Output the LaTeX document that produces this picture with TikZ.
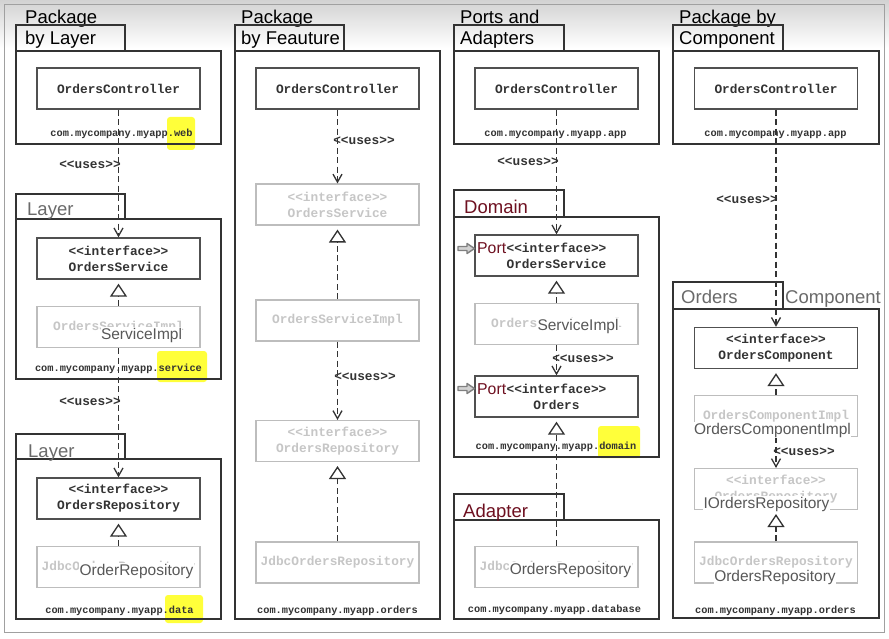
\documentclass[tikz,border=0pt]{standalone}
\usepackage{fontspec}
\setmainfont{Liberation Sans}
\newfontfamily\monof{Liberation Mono}
\usetikzlibrary{arrows.meta}
\definecolor{pkgc}{HTML}{333333}
\definecolor{clsc}{HTML}{505050}
\definecolor{lgc}{HTML}{BDBDBD}
\definecolor{lgt}{HTML}{C6C6C6}
\definecolor{txt}{HTML}{333333}
\definecolor{dred}{HTML}{6E1020}
\definecolor{hl}{HTML}{FFFF3A}
\definecolor{ovl}{HTML}{585858}
\definecolor{gtitle}{HTML}{6A6A6A}
\definecolor{frame}{HTML}{A0A0A0}
\definecolor{topgray}{HTML}{D2D2D2}
\begin{document}
\begin{tikzpicture}[x=1pt,y=-1pt,
  pkg/.style={draw=pkgc,line width=2.6pt},
  cls/.style={draw=clsc,line width=1.4pt,minimum width=163pt,minimum height=41pt,inner sep=0pt,align=center,text=txt,font=\monof\bfseries\fontsize{12.8}{16}\selectfont},
  gcls/.style={cls,draw=lgc,line width=1.1pt,text=lgt},
  pkglabel/.style={text=txt,font=\monof\bfseries\fontsize{10.3}{12}\selectfont,inner sep=0pt},
  uses/.style={text=txt,font=\monof\bfseries\fontsize{12.8}{15}\selectfont,inner sep=0pt},
  title/.style={anchor=base west,inner sep=0pt,font=\fontsize{18.5}{21}\selectfont},
  gtitlest/.style={title,text=gtitle},
  rtitle/.style={title,text=dred},
  overlay/.style={anchor=base,inner sep=0.3pt,fill=white,text=ovl,font=\fontsize{15.5}{17}\selectfont},
  porttext/.style={anchor=base west,inner sep=0pt,text=dred,font=\fontsize{15.8}{17}\selectfont},
  dep/.style={draw=pkgc,line width=1.4pt,dash pattern=on 6pt off 3.5pt,-{Straight Barb[length=8pt,width=9pt,line width=1.3pt]}},
  real/.style={draw=pkgc,line width=1.4pt,dash pattern=on 6pt off 3.5pt,shorten >=4pt,-{Triangle[length=13pt,width=17pt,fill=white,line width=1.3pt]}},
  hlst/.style={fill=hl,rounded corners=3pt},
  porticon/.style={draw=gray,fill=topgray,line width=1.4pt,line join=round}
]
\useasboundingbox (0,0) rectangle (889,639);
\fill[white] (0,0) rectangle (889,639);
\shade[top color=topgray,bottom color=white] (0,0) rectangle (889,48);
\draw[frame,line width=1pt] (4.5,4.5) rectangle (884.5,632);

% highlights
\fill[hlst] (167,117) rectangle (195,150);
\fill[hlst] (157,351) rectangle (207,382);
\fill[hlst] (165,595) rectangle (203,623);
\fill[hlst] (598,426) rectangle (640,458);

% ---------- column 1 : Package by Layer ----------
\node[title] (t1a) at (25,24) {Package};
\node[title] (t1b) at (25,45) {by Layer};
\draw[pkg] (16,51) |- (125,25) -- (125,51);
\draw[pkg] (16,51) rectangle (221,144);
\draw[pkg] (16,219) |- (125,194) -- (125,219);
\draw[pkg] (16,219) rectangle (221,379);
\node[gtitlest] (l1) at (27,216) {Layer};
\draw[pkg] (16,459) |- (125,434) -- (125,459);
\draw[pkg] (16,459) rectangle (221,619);
\node[gtitlest] (l2) at (28,457) {Layer};

\node[cls] (c1ctrl) at (118.5,88.5) {OrdersController};
\node[cls] (c1svc) at (118.5,258.5) {<<interface>>\\OrdersService};
\node[gcls] (c1impl) at (118.5,327) {OrdersServiceImpl};
\node[cls] (c1repo) at (118.5,498.5) {<<interface>>\\OrdersRepository};
\node[gcls] (c1jdbc) at (118.5,567) {JdbcOrdersRepository};
\node[pkglabel] (p1a) at (121.5,134) {com.mycompany.myapp.web};
\node[pkglabel] (p1b) at (118.5,369) {com.mycompany.myapp.service};
\node[pkglabel] (p1c) at (119.5,611) {com.mycompany.myapp.data};
\node[uses] (u1a) at (90,165) {<<uses>>};
\node[uses] (u1b) at (90,402) {<<uses>>};
\draw[dep] (c1ctrl) -- (c1svc);
\draw[real] (c1impl) -- (c1svc);
\draw[dep] (c1impl) -- (c1repo);
\draw[real] (c1jdbc) -- (c1repo);
\node[overlay] (o1a) at (141.5,339) {ServiceImpl};
\node[overlay] (o1b) at (136.5,575) {OrderRepository};

% ---------- column 2 : Package by Feature ----------
\node[title] (t2a) at (241,24) {Package};
\node[title] (t2b) at (241,45) {by Feauture};
\draw[pkg] (235,51) |- (344,25) -- (344,51);
\draw[pkg] (235,51) rectangle (440,619);
\node[cls] (c2ctrl) at (337.5,88.5) {OrdersController};
\node[gcls] (c2svc) at (337.5,204.5) {<<interface>>\\OrdersService};
\node[gcls] (c2impl) at (337.5,320.5) {OrdersServiceImpl};
\node[gcls] (c2repo) at (337.5,441) {<<interface>>\\OrdersRepository};
\node[gcls] (c2jdbc) at (337.5,562.5) {JdbcOrdersRepository};
\node[pkglabel] (p2a) at (337.5,611) {com.mycompany.myapp.orders};
\node[uses] (u2a) at (364,141) {<<uses>>};
\node[uses] (u2b) at (365,377) {<<uses>>};
\draw[dep] (c2ctrl) -- (c2svc);
\draw[real] (c2impl) -- (c2svc);
\draw[dep] (c2impl) -- (c2repo);
\draw[real] (c2jdbc) -- (c2repo);

% ---------- column 3 : Ports and Adapters ----------
\node[title] (t3a) at (460,24) {Ports and};
\node[title] (t3b) at (460,45) {Adapters};
\draw[pkg] (454,51) |- (564,25) -- (564,51);
\draw[pkg] (454,51) rectangle (659,144);
\draw[pkg] (454,217) |- (564,190) -- (564,217);
\draw[pkg] (454,217) rectangle (659,457);
\node[rtitle] (d3) at (464,214) {Domain};
\draw[pkg] (454,520) |- (564,494) -- (564,520);
\draw[pkg] (454,520) rectangle (659,619);
\node[rtitle] (a3) at (463,517) {Adapter};

\node[cls] (c3ctrl) at (556.5,88.5) {OrdersController};
\node[cls] (c3svc) at (556.5,255.5) {<<interface>>\\OrdersService};
\node[gcls] (c3impl) at (556.5,324) {OrdersServiceImpl};
\node[cls] (c3ord) at (556.5,396.5) {<<interface>>\\Orders};
\node[gcls] (c3jdbc) at (556.5,567) {JdbcOrdersRepository};
\node[pkglabel] (p3a) at (555.5,135) {com.mycompany.myapp.app};
\node[pkglabel] (p3b) at (556,447) {com.mycompany.myapp.domain};
\node[pkglabel] (p3c) at (554.5,610) {com.mycompany.myapp.database};
\node[uses] (u3a) at (528,162) {<<uses>>};
\node[uses] (u3b) at (583,359) {<<uses>>};
\draw[dep] (c3ctrl) -- (c3svc);
\draw[real] (c3impl) -- (c3svc);
\draw[dep] (c3impl) -- (c3ord);
\draw[real] (c3jdbc) -- (c3ord);
\node[overlay] (o3a) at (578,330) {ServiceImpl};
\node[overlay] (o3b) at (570.5,574) {OrdersRepository};
\node[porttext] (pt1) at (477,254) {Port};
\node[porttext] (pt2) at (477,394) {Port};
\draw[porticon] (458,246.5) -- (467,246.5) -- (467,243.5) -- (474.5,248.5) -- (467,253.5) -- (467,250.5) -- (458,250.5) -- cycle;
\draw[porticon] (458,386.5) -- (467,386.5) -- (467,383.5) -- (474.5,388.5) -- (467,393.5) -- (467,390.5) -- (458,390.5) -- cycle;

% ---------- column 4 : Package by Component ----------
\node[title] (t4a) at (679,24) {Package by};
\node[title] (t4b) at (679,45) {Component};
\draw[pkg] (673,51) |- (783,25) -- (783,51);
\draw[pkg] (673,51) rectangle (879,144);
\draw[pkg] (673,309) |- (783,282) -- (783,309);
\draw[pkg] (673,309) rectangle (879,618);
\node[gtitlest] (or4) at (681,303) {Orders};
\node[gtitlest] (co4) at (785,303) {Component};

\node[cls] (c4ctrl) at (776,88.5) {OrdersController};
\node[cls] (c4comp) at (776,348) {<<interface>>\\OrdersComponent};
\node[gcls] (c4cimpl) at (776,416) {OrdersComponentImpl};
\node[gcls] (c4repo) at (776,489) {<<interface>>\\OrdersRepository};
\node[gcls] (c4jdbc) at (776,562.5) {JdbcOrdersRepository};
\node[pkglabel] (p4a) at (775.5,135) {com.mycompany.myapp.app};
\node[pkglabel] (p4b) at (775.5,611) {com.mycompany.myapp.orders};
\node[uses] (u4a) at (747,200) {<<uses>>};
\node[uses] (u4b) at (804,452) {<<uses>>};
\draw[dep] (c4ctrl) -- (c4comp);
\draw[real] (c4cimpl) -- (c4comp);
\draw[dep] (c4cimpl) -- (c4repo);
\draw[real] (c4jdbc) -- (c4repo);
\node[overlay] (o4a) at (772.5,434) {OrdersComponentImpl};
\node[overlay] (o4b) at (766.5,508) {IOrdersRepository};
\node[overlay] (o4c) at (775,581) {OrdersRepository};
\end{tikzpicture}
\end{document}
